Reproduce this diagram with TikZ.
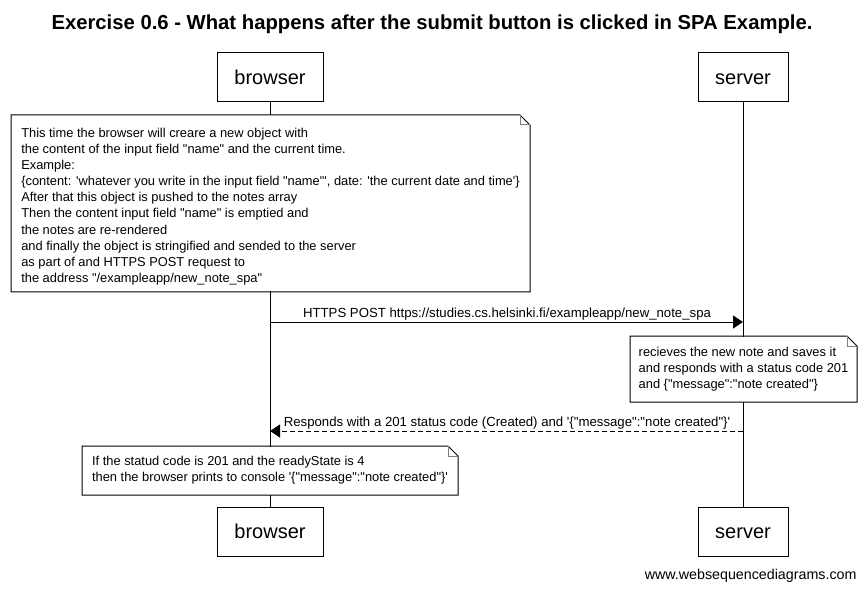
\documentclass[tikz,border=0pt]{standalone}
\usepackage{fontspec}
\setmainfont{Liberation Sans}[Ligatures=TeXOff]
\usetikzlibrary{arrows.meta, positioning, calc}

% outline of a note with a folded corner
\newcommand{\notefold}[1]{%
  \draw (#1.north west) -- ($(#1.north east)+(-10,0)$) -- ($(#1.north east)+(0,10)$)
    -- (#1.south east) -- (#1.south west) -- cycle;
  \draw[gray] ($(#1.north east)+(-10,0)$) -- ($(#1.north east)+(-10,10)$) -- ($(#1.north east)+(0,10)$);}

\begin{document}
\begin{tikzpicture}[
        x=0.75pt, y=-0.75pt,
        every path/.style={line width=0.75pt},
        actor/.style={rectangle, draw, fill=white, minimum height=36.75pt, inner sep=0pt, text height=13.5pt, text depth=3pt, font=\fontsize{15}{18}\selectfont},
        note/.style={rectangle, fill=white, anchor=north west, align=left, inner sep=0pt, font=\fontsize{9.65}{12}\selectfont},
        label/.style={font=\fontsize{9.9}{12}\selectfont, inner sep=0pt},
        msg/.style={-{Triangle[length=7.5pt, width=9.75pt]}},
        reply/.style={msg, dash pattern=on 3.75pt off 2.25pt}
    ]
        \useasboundingbox (0,0) rectangle (866,591);
        \node[font=\bfseries\fontsize{15.2}{18}\selectfont] (title) at (432,24) {Exercise 0.6 - What happens after the submit button is clicked in SPA Example.};

        \node[actor, minimum width=79.5pt] (browser) at (270,77.5) {browser};
        \node[actor, minimum width=67.5pt] (server) at (743,77.5) {server};
        \node[actor, minimum width=79.5pt] (browser2) at (270,531.5) {browser};
        \node[actor, minimum width=67.5pt] (server2) at (743,531.5) {server};

        \draw (browser) -- (browser2);
        \draw (server) -- (server2);

        \node[note, minimum width=388.5pt, minimum height=132pt, font=\fontsize{9.65}{12.1}\selectfont] (create) at (11,115) {\rule{0pt}{11.5pt}This time the browser will creare a new object with\\
the content of the input field "name" and the current time.\\
Example:\\
\{content: 'whatever you write in the input field "name"', date: 'the current date and time'\}\\
After that this object is pushed to the notes array\\
Then the content input field "name" is emptied and\\
the notes are re-rendered\\
and finally the object is stringified and sended to the server\\
as part of and HTTPS POST request to\\
the address "/exampleapp/new\_note\_spa"};
        \notefold{create}

        \draw[msg] (browser |- 0,322) -- (server |- 0,322);
        \node[label] (post) at (507,314) {HTTPS POST https://studies.cs.helsinki.fi/exampleapp/new\_note\_spa};

        \node[note, minimum width=169.5pt, minimum height=48.75pt] (saves) at (630,336) {recieves the new note and saves it\\
and responds with a status code 201\\
and \{"message":"note created"\}};
        \notefold{saves}

        \draw[reply] (server |- 0,431) -- (browser |- 0,431);
        \node[label] (created) at (507,423) {Responds with a 201 status code (Created) and '\{"message":"note created"\}'};

        \node[note, minimum width=281.25pt, minimum height=36pt] (prints) at (82,446) {If the statud code is 201 and the readyState is 4\\
then the browser prints to console '\{"message":"note created"\}'};
        \notefold{prints}

        \node[label, font=\fontsize{10.7}{12}\selectfont, anchor=east] (site) at (857,576) {www.websequencediagrams.com};
\end{tikzpicture}
\end{document}
